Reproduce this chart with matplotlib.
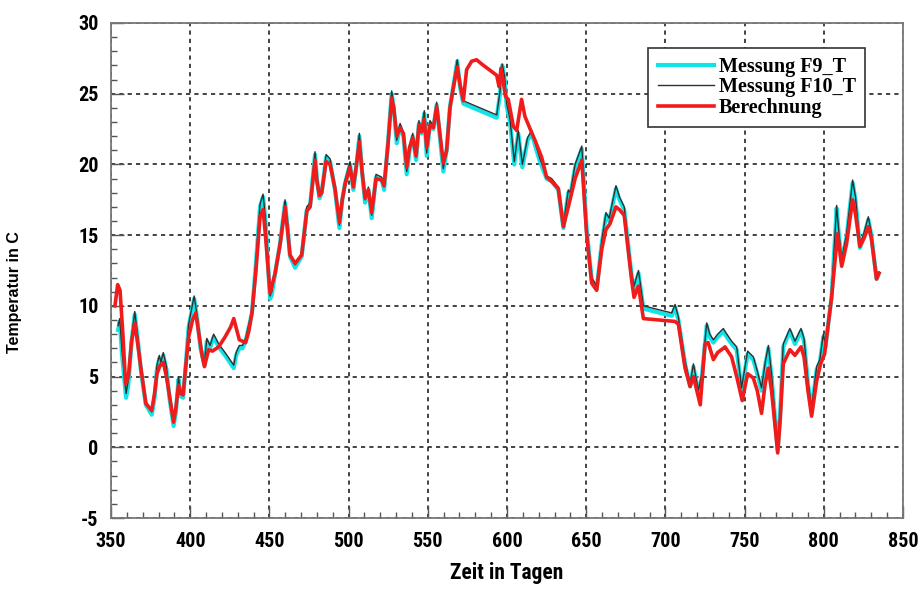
import matplotlib
matplotlib.use("Agg")
import matplotlib.pyplot as plt
from matplotlib.ticker import MultipleLocator
from matplotlib import font_manager as fm

# ---- data ----
days_meas = [354.5, 355.5, 357, 359.5, 361, 363, 365, 367, 369, 372, 375.7, 377.5, 379, 380.5, 381.5, 383,
             385, 387, 389.5, 391, 392.6, 394, 395.5, 397, 399, 402.5, 404.5, 406.5, 409, 410.5, 412.5,
             414.8, 418, 422, 427.5, 429, 431, 433, 435, 437, 439, 441.5, 444.1, 446, 447.5, 450.4, 451.5,
             453.6, 456.7, 459.9, 461.5, 463, 466.2, 470.4, 473.6, 475.7, 478.8, 480, 481.6, 483, 485.8,
             488.3, 491.4, 494.2, 496, 497.8, 500.9, 503, 505, 506.8, 508.5, 510.4, 512.5, 514.6, 517.3,
             520.9, 522.4, 524.7, 527.2, 528.5, 530.4, 532.5, 534.6, 536.7, 538.5, 540.5, 542.6, 544.4,
             546, 547.8, 549.3, 551.4, 553.5, 555.6, 557.1, 559.8, 561.9, 564, 566.1, 568.6, 570.3, 572.4,
             593.5, 595.6, 597, 598.5, 599.8, 601.9, 604.6, 607.1, 609.7, 613, 615.6, 618.1, 620.8, 625,
             628.2, 632.4, 635.6, 638.7, 640, 643, 647.2, 650.3, 653.5, 656.6, 659.8, 662.5, 664.5, 668.8,
             671, 674, 678.7, 680.2, 683, 686.1, 704, 706.1, 708.2, 712.4, 715.6, 717.7, 720.8, 723, 726.1,
             728, 730.3, 733, 736.6, 737.6, 741.8, 745, 748.1, 751.9, 755.5, 758, 760.7, 763, 765, 767,
             770.9, 772.5, 774.4, 778.6, 781.8, 785.6, 787.5, 790, 792.3, 795.5, 797.5, 799.7, 801, 804.9,
             808.1, 809.5, 811.3, 814.4, 818.2, 820, 822.8, 825.5, 828.1, 830, 833.3, 834.8]

temp_f9 = [8.3, 8.9, 6.5, 3.5, 4.5, 7.5, 9.4, 7.5, 5.3, 3.0, 2.3, 3.5, 5.5, 6.3, 5.8, 6.5,
           5.5, 3.4, 1.5, 2.5, 4.8, 3.6, 3.5, 5.5, 8.5, 10.5, 9.0, 7.0, 5.8, 7.5, 7.0,
           7.8, 7.1, 6.5, 5.6, 6.5, 7.0, 7.0, 7.5, 8.5, 9.5, 13.0, 17.0, 17.7, 16.0, 10.5, 10.8,
           12.3, 14.4, 17.3, 15.5, 13.5, 12.7, 13.5, 16.8, 17.1, 20.7, 19.0, 17.6, 18.0, 20.5,
           20.2, 18.2, 15.5, 17.5, 18.7, 20.0, 18.2, 20.0, 22.0, 19.5, 17.3, 18.2, 16.2, 19.1,
           18.9, 18.2, 21.3, 25.0, 24.0, 21.5, 22.7, 22.0, 19.3, 21.0, 22.0, 20.3, 22.9,
           22.2, 23.6, 20.6, 22.9, 22.5, 24.2, 22.5, 19.5, 21.0, 24.1, 25.5, 27.3, 25.5, 24.3,
           23.3, 25.0, 27.0, 26.0, 24.1, 23.0, 20.0, 22.2, 19.8, 21.7, 22.2, 21.2, 20.2, 19.0,
           18.8, 18.2, 15.5, 18.0, 17.8, 19.8, 21.1, 15.4, 11.8, 11.2, 14.4, 16.4, 16.0, 18.3,
           17.5, 16.8, 12.1, 11.2, 12.3, 9.8, 9.3, 9.9, 9.0, 5.9, 4.3, 5.7, 3.8, 5.0, 8.6,
           7.8, 7.4, 7.8, 8.2, 8.0, 7.3, 6.9, 4.0, 6.6, 6.2, 5.2, 4.0, 5.8, 7.0, 5.0,
           -0.2, 2.5, 7.1, 8.2, 7.3, 8.2, 7.5, 4.5, 2.6, 5.5, 6.0, 7.8, 7.1, 10.6,
           16.9, 15.0, 13.1, 14.9, 18.7, 17.5, 14.1, 15.0, 16.1, 15.0, 11.9, 12.3]

temp_f10 = [8.6, 9.1, 6.8, 3.8, 4.8, 7.8, 9.6, 7.7, 5.5, 3.2, 2.5, 3.7, 5.8, 6.5, 6.0, 6.7,
            5.7, 3.6, 1.7, 2.7, 5.0, 3.8, 3.7, 5.7, 8.7, 10.7, 9.2, 7.2, 6.0, 7.7, 7.2,
            8.0, 7.3, 6.7, 5.8, 6.7, 7.2, 7.2, 7.7, 8.7, 9.7, 13.2, 17.2, 17.9, 16.2, 10.7, 11.0,
            12.5, 14.6, 17.5, 15.7, 13.7, 12.9, 13.7, 17.0, 17.3, 20.9, 19.2, 17.8, 18.2, 20.7,
            20.4, 18.4, 15.7, 17.7, 18.9, 20.2, 18.4, 20.2, 22.2, 19.7, 17.5, 18.4, 16.4, 19.3,
            19.1, 18.4, 21.5, 25.2, 24.2, 21.7, 22.9, 22.2, 19.5, 21.2, 22.2, 20.5, 23.1,
            22.4, 23.8, 20.8, 23.1, 22.7, 24.4, 22.7, 19.7, 21.2, 24.3, 25.7, 27.4, 25.7, 24.5,
            23.5, 25.2, 27.1, 26.2, 24.3, 23.2, 20.2, 22.4, 20.0, 21.9, 22.4, 21.4, 20.4, 19.2,
            19.0, 18.4, 15.7, 18.2, 18.0, 20.0, 21.3, 15.6, 12.0, 11.4, 14.6, 16.6, 16.2, 18.5,
            17.7, 17.0, 12.3, 11.4, 12.5, 10.0, 9.5, 10.1, 9.2, 6.1, 4.5, 5.9, 4.0, 5.2, 8.8,
            8.0, 7.6, 8.0, 8.4, 8.2, 7.5, 7.1, 4.2, 6.8, 6.4, 5.4, 4.2, 6.0, 7.2, 5.2,
            0.0, 2.7, 7.3, 8.4, 7.5, 8.4, 7.7, 4.7, 2.8, 5.7, 6.2, 8.0, 7.3, 10.8,
            17.1, 15.2, 13.3, 15.1, 18.9, 17.7, 14.3, 15.2, 16.3, 15.2, 12.1, 12.4]

days_calc = [352.5, 354.2, 355.7, 357.5, 359.2, 361, 363, 365, 367, 369, 372, 375.7, 377.5, 379, 381, 383,
             385, 387, 389.5, 391, 392.6, 394, 395.5, 397, 399, 401.5, 403.5, 405.5, 407.5, 409, 411.6,
             414, 418, 422, 425.5, 427.5, 431, 435, 437, 439, 441.5, 444.1, 446, 447.5, 450.4, 453.6,
             456.7, 459.9, 461.5, 463, 466.2, 470.4, 473.6, 475.7, 478.8, 480, 481.6, 483, 485.8, 488.3,
             491.4, 494.2, 496, 497.8, 500.9, 503, 505, 506.8, 508.5, 510.4, 512.5, 514.6, 517.3, 520.9,
             522.4, 524.7, 527.2, 528.5, 530.4, 532.5, 534.6, 536.7, 538.5, 540.5, 542.6, 544.4, 546,
             547.8, 549.3, 551.4, 553.5, 555.6, 557.1, 559.8, 561.9, 564, 566.1, 568.6, 570.3, 572.4,
             574.5, 577.7, 580.8, 584, 593.5, 595, 596.2, 597.5, 599.1, 600.8, 604, 606.1, 609.2, 611.3,
             615, 617.7, 621.9, 625, 628.2, 632.4, 635.6, 639.8, 643, 647.2, 650.3, 653.5, 656.6, 659.8,
             662.5, 665, 668.8, 671, 674, 678.7, 680.2, 683, 686.1, 706, 708.2, 712.4, 715.6, 717.7, 722,
             725, 727, 730.3, 733, 736.6, 737.6, 741.8, 745, 748.5, 751.9, 755.5, 758, 760.7, 763, 765,
             767, 770.9, 772.5, 774.4, 778.6, 781.8, 785.6, 787.5, 790, 792.3, 795.5, 798, 800.5, 804.9,
             808.7, 811.3, 814.4, 818.2, 820, 822.8, 825.5, 828.1, 830, 833.3, 834.8]

temp_calc = [10.0, 11.5, 11.1, 8.0, 4.5, 5.0, 7.5, 8.8, 7.2, 5.5, 3.1, 2.6, 3.8, 5.2, 5.8, 6.0,
             5.0, 3.6, 1.8, 2.8, 4.4, 3.8, 3.7, 5.5, 7.8, 9.0, 9.5, 8.0, 6.5, 5.7, 6.9,
             6.8, 7.1, 7.8, 8.5, 9.1, 7.6, 7.4, 8.2, 9.5, 12.5, 16.3, 16.8, 15.0, 10.9, 12.3,
             14.3, 17.0, 15.3, 13.6, 13.0, 13.6, 16.7, 17.0, 20.3, 18.8, 17.8, 18.0, 20.2, 20.0,
             18.3, 15.9, 17.5, 18.6, 19.8, 18.4, 20.0, 21.6, 19.5, 17.6, 18.2, 16.6, 19.0, 18.9,
             18.5, 21.2, 24.7, 24.0, 22.0, 22.6, 22.2, 19.8, 21.2, 21.9, 20.6, 22.8, 22.3,
             23.2, 21.2, 22.8, 22.6, 24.1, 22.7, 20.1, 21.0, 24.0, 25.4, 26.9, 25.7, 24.5,
             26.7, 27.3, 27.4, 27.1, 26.3, 25.5, 26.8, 26.0, 24.8, 24.6, 22.7, 22.4, 24.6, 23.4,
             22.4, 21.7, 20.5, 19.1, 18.8, 18.3, 15.6, 17.5, 19.0, 20.3, 15.0, 11.6, 11.1, 14.0,
             15.4, 15.8, 17.0, 16.8, 16.4, 11.8, 10.6, 11.4, 9.1, 8.9, 8.7, 5.6, 4.3, 5.0, 3.0,
             7.3, 7.4, 6.2, 6.7, 7.0, 7.1, 6.4, 5.0, 3.3, 5.2, 4.9, 4.0, 2.4, 4.5, 5.6,
             4.0, -0.4, 2.0, 5.9, 6.9, 6.5, 7.1, 6.4, 4.0, 2.2, 4.7, 5.9, 6.6, 10.6,
             15.1, 12.8, 14.4, 17.5, 16.5, 14.2, 14.8, 15.6, 14.8, 11.9, 12.3]

labels = ["Messung F9_T", "Messung F10_T", "Berechnung"]
x_ticks = [350, 400, 450, 500, 550, 600, 650, 700, 750, 800, 850]
y_ticks = [-5, 0, 5, 10, 15, 20, 25, 30]

# ---- pick a narrow sans font if one is installed ----
names = {f.name for f in fm.fontManager.ttflist}
narrow = None
for cand in ["Liberation Sans Narrow", "Roboto Condensed", "Open Sans Condensed", "Arial Narrow"]:
    if cand in names:
        narrow = dict(family=[cand, "DejaVu Sans"], stretch="normal")
        break
if narrow is None:
    has_dv_cond = any(f.name == "DejaVu Sans" and f.stretch == "condensed" for f in fm.fontManager.ttflist)
    if has_dv_cond:
        narrow = dict(family=["DejaVu Sans"], stretch="condensed")
        narrow_size = 13
    else:
        narrow = dict(family=["Liberation Sans", "DejaVu Sans"], stretch="normal")
        narrow_size = 12.5
else:
    narrow_size = 14.5

# ---- figure ----
fig = plt.figure(figsize=(9.19, 5.89), dpi=100)
ax = fig.add_axes([111/919, 1-518/589, (903-111)/919, (518-23)/589])

ax.plot(days_meas, temp_f9, color="#10e4e8", lw=3.0, label=labels[0], zorder=3)
ax.plot(days_meas, temp_f10, color="#303030", lw=1.0, label=labels[1], zorder=4)
ax.plot(days_calc, temp_calc, color="#f01c1c", lw=2.6, label=labels[2], zorder=5)

ax.set_xlim(350, 850)
ax.set_ylim(-5, 30)
ax.set_xticks(x_ticks)
ax.set_yticks(y_ticks)
ax.xaxis.set_minor_locator(MultipleLocator(10))
ax.yaxis.set_minor_locator(MultipleLocator(1))
ax.tick_params(which="both", direction="in", top=False, right=False, color="#555555")
ax.tick_params(which="major", length=9, width=1)
ax.tick_params(which="minor", length=4, width=1)
ax.tick_params(axis="x", pad=10)
ax.tick_params(axis="y", pad=9)

tick_font = dict(weight="bold", size=narrow_size, **narrow)
ax.set_xticklabels([str(v) for v in x_ticks], **tick_font)
ax.set_yticklabels([str(v) for v in y_ticks], **tick_font)

ax.grid(True, which="major", color="#222222", linestyle=(0, (2.5, 2.5)), lw=1.2)
for s in ax.spines.values():
    s.set_color("#777777")
    s.set_linewidth(1.3)

ax.set_xlabel("Zeit in Tagen", weight="bold", size=narrow_size + 1, labelpad=8, **narrow)
ax.set_ylabel("Temperatur in C", family=["Liberation Sans", "DejaVu Sans"], weight="bold", size=11.5)
ax.yaxis.set_label_coords((22-111)/792, (518-292)/495)

leg = ax.legend(loc="upper right", bbox_to_anchor=((865-111)/792, (518-48)/495),
                borderaxespad=0.0,
                prop=dict(family=["Liberation Serif", "DejaVu Serif"], weight="bold", size=14.5),
                frameon=True, fancybox=False, framealpha=1, edgecolor="#333333",
                handlelength=2.8, handletextpad=0.25, labelspacing=0.02, borderpad=0.45)
leg.get_frame().set_linewidth(1.2)

fig.savefig("out.png", dpi=100)
